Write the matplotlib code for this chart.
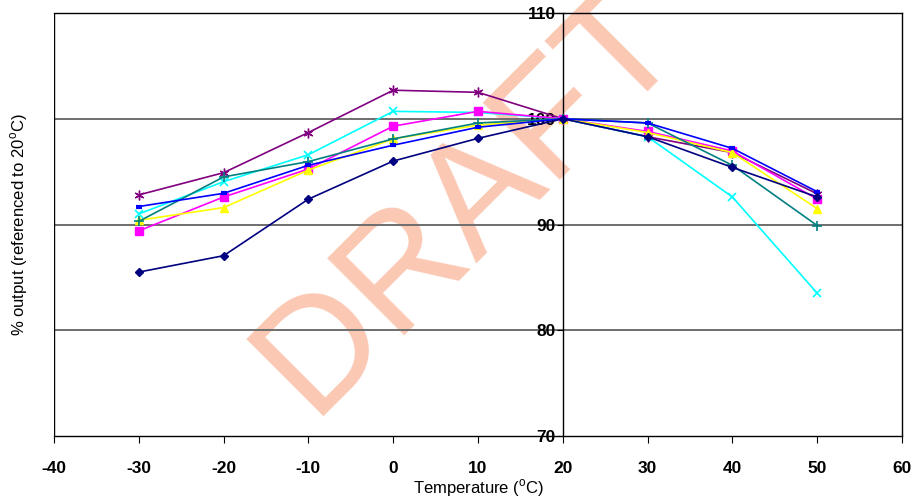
import numpy as np
import matplotlib.pyplot as plt

plt.rcParams['font.family'] = ['Liberation Sans', 'DejaVu Sans']
plt.rcParams['axes.unicode_minus'] = False

temps = [-30, -20, -10, 0, 10, 20, 30, 40, 50]

# % output referenced to 20 C
navy_diamond = [85.5, 87.05, 92.4, 96.0, 98.15, 100.0, 98.3, 95.4, 92.6]
magenta_square = [89.4, 92.6, 95.25, 99.3, 100.7, 100.0, 98.8, 96.95, 92.4]
yellow_triangle = [90.4, 91.6, 95.15, 98.1, 99.4, 100.0, 98.7, 96.8, 91.5]
cyan_cross = [91.0, 94.05, 96.6, 100.7, 100.6, 100.0, 98.3, 92.6, 83.5]
purple_star = [92.8, 94.9, 98.7, 102.7, 102.5, 100.0, 98.3, 96.8, 92.9]
teal_plus = [90.3, 94.5, 95.95, 98.1, 99.6, 100.0, 99.6, 95.6, 89.9]
blue_dash = [91.7, 92.95, 95.6, 97.5, 99.2, 100.0, 99.6, 97.2, 93.1]

x_ticks = [-40, -30, -20, -10, 0, 10, 20, 30, 40, 50, 60]
y_ticks = [70, 80, 90, 100, 110]

fig = plt.figure(figsize=(9.14, 4.99), dpi=100)
ax = fig.add_axes([0.0591, 0.1263, 0.9278, 0.8476])
ax.set_facecolor('none')

# watermark, anchored at the baseline start of the "D"
ax.text(0.340, 0.166, 'DRAFT', transform=fig.transFigure, rotation=45,
        rotation_mode='anchor', fontsize=114, color='#fbc8b4',
        ha='left', va='baseline', clip_on=False, zorder=0.1)

for v in [80, 90, 100]:
    ax.axhline(v, color='#6e6e6e', lw=1.4, zorder=1)

series = [
    (purple_star, '#800080', dict(marker=(6, 2, 0), ms=7, mew=1.0)),
    (cyan_cross, '#00ffff', dict(marker='x', ms=6, mew=1.2)),
    (magenta_square, '#ff00ff', dict(marker='s', ms=5.5)),
    (yellow_triangle, '#ffff00', dict(marker='^', ms=6)),
    (teal_plus, '#008080', dict(marker='+', ms=7, mew=1.2)),
    (blue_dash, '#0000ff', dict(marker='_', ms=5, mew=3)),
    (navy_diamond, '#000080', dict(marker='D', ms=4)),
]
for vals, col, mk in series:
    ax.plot(temps, vals, color=col, lw=1.2, mfc=col, mec=col, zorder=3, **mk)

ax.set_xlim(-40, 60)
ax.set_ylim(70, 110)
ax.set_xticks(x_ticks)
ax.set_yticks(y_ticks)
ax.spines['left'].set_position(('data', 20))
ax.spines['left'].set_linewidth(1.0)
for s in ['top', 'right', 'bottom']:
    ax.spines[s].set_linewidth(1.0)
ax.axvline(-40, color='k', lw=1.0, zorder=2)

ax.tick_params(axis='x', direction='out', length=5, width=0.8, pad=13,
               labelsize=12.5)
ax.tick_params(axis='y', direction='out', length=4, width=0.8, pad=1,
               labelsize=12.5)
for lab in ax.get_xticklabels() + ax.get_yticklabels():
    lab.set_fontweight('bold')

ax.set_xlabel('Temperature ($^{\\mathregular{o}}$C)', fontsize=12, labelpad=1)
ax.set_ylabel('% output (referenced to 20$^{\\mathregular{o}}$C)', fontsize=12)
ax.yaxis.set_label_coords(-0.028, 0.5)

fig.savefig('out.png', dpi=100)
